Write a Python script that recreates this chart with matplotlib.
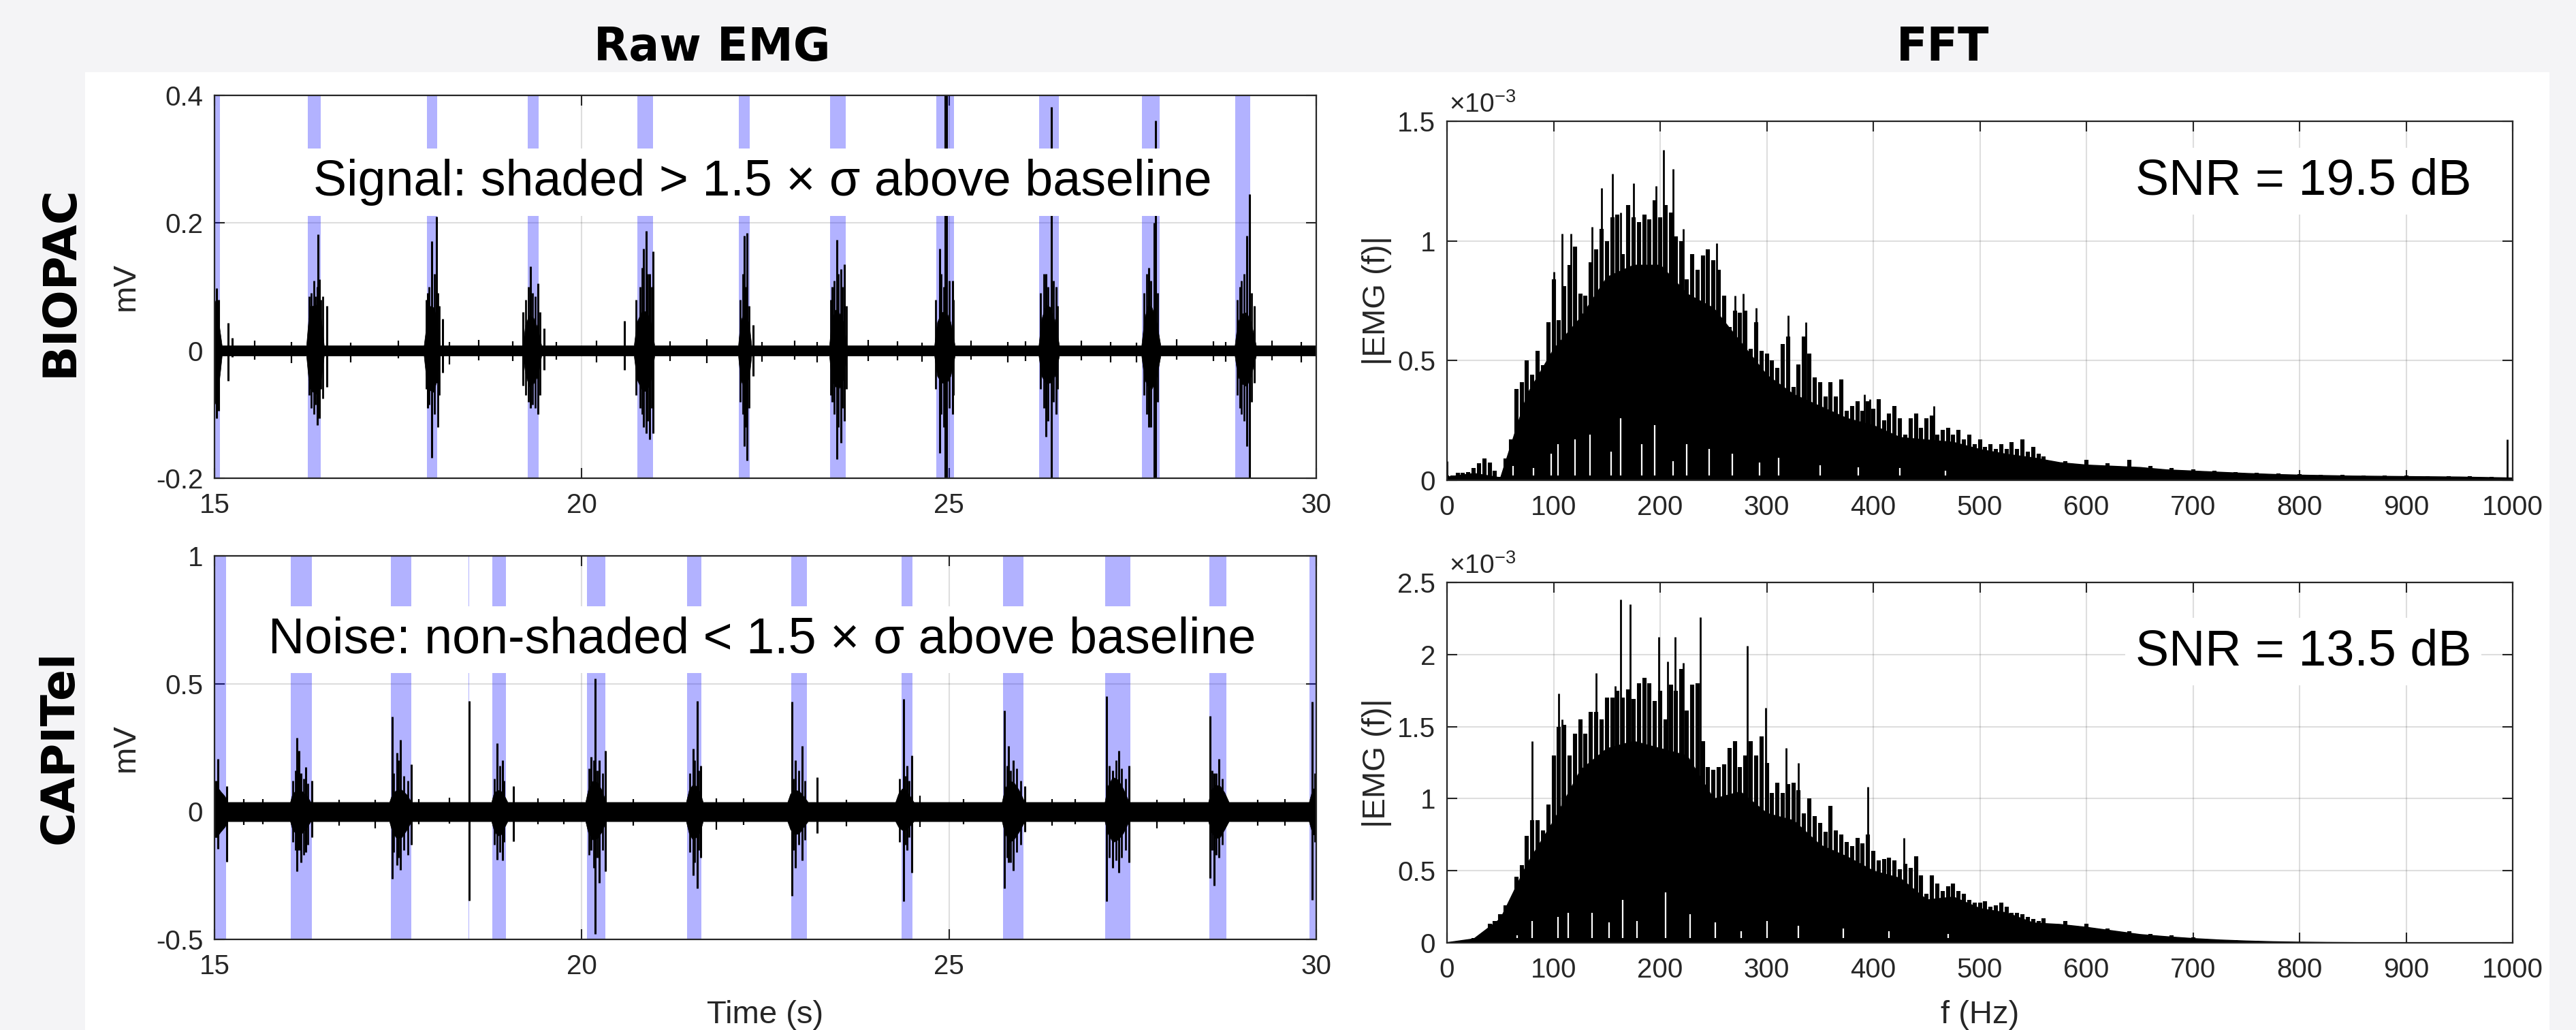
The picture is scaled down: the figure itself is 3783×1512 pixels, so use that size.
import numpy as np
import matplotlib.pyplot as plt
from matplotlib.patches import Rectangle

plt.rcParams['font.family'] = ['Liberation Sans', 'DejaVu Sans']
plt.rcParams['axes.unicode_minus'] = False
plt.rcParams['mathtext.default'] = 'regular'

W, H = 3783, 1512
INK = '#262626'

# -----------------------------
# Raw EMG, BIOPAC (mV)
# -----------------------------
biopac_bands = [(15.00, 15.07), (16.27, 16.45), (17.89, 18.03), (19.26, 19.41),
                (20.76, 20.97), (22.14, 22.29), (23.38, 23.59), (24.83, 25.07),
                (26.23, 26.50), (27.63, 27.87), (28.90, 29.10)]

# min/max envelope of the trace
biopac_env_t = [15.00, 15.02, 15.05, 15.08, 15.10,
                16.25, 16.28, 16.33, 16.39, 16.45, 16.49,
                17.85, 17.88, 17.93, 17.98, 18.03, 18.07,
                19.20, 19.23, 19.28, 19.34, 19.40, 19.45,
                20.71, 20.75, 20.81, 20.87, 20.93, 20.99,
                22.13, 22.16, 22.20, 22.24, 22.28, 22.31,
                23.37, 23.40, 23.45, 23.50, 23.56, 23.61,
                24.80, 24.84, 24.90, 24.96, 25.02, 25.08,
                26.22, 26.26, 26.32, 26.38, 26.44, 26.50,
                27.62, 27.66, 27.71, 27.76, 27.82, 27.88,
                28.89, 28.93, 28.99, 29.05, 29.11, 29.18,
                30.00]
biopac_env_hi = [0.075, 0.080, 0.050, 0.025, 0.008,
                 0.008, 0.050, 0.070, 0.072, 0.050, 0.008,
                 0.008, 0.035, 0.070, 0.068, 0.050, 0.008,
                 0.008, 0.040, 0.055, 0.052, 0.035, 0.008,
                 0.008, 0.045, 0.060, 0.062, 0.050, 0.008,
                 0.008, 0.045, 0.058, 0.055, 0.040, 0.008,
                 0.008, 0.045, 0.064, 0.060, 0.045, 0.008,
                 0.008, 0.045, 0.060, 0.062, 0.045, 0.008,
                 0.008, 0.050, 0.072, 0.068, 0.048, 0.008,
                 0.008, 0.050, 0.072, 0.068, 0.048, 0.008,
                 0.008, 0.045, 0.058, 0.060, 0.045, 0.008,
                 0.008]
biopac_env_lo = [-0.080, -0.085, -0.060, -0.030, -0.008,
                 -0.008, -0.045, -0.064, -0.068, -0.045, -0.008,
                 -0.008, -0.040, -0.062, -0.065, -0.045, -0.008,
                 -0.008, -0.035, -0.056, -0.052, -0.040, -0.008,
                 -0.008, -0.045, -0.060, -0.064, -0.052, -0.008,
                 -0.008, -0.045, -0.056, -0.054, -0.040, -0.008,
                 -0.008, -0.045, -0.056, -0.060, -0.045, -0.008,
                 -0.008, -0.040, -0.050, -0.052, -0.040, -0.008,
                 -0.008, -0.040, -0.052, -0.050, -0.040, -0.008,
                 -0.008, -0.045, -0.056, -0.060, -0.045, -0.008,
                 -0.008, -0.040, -0.052, -0.056, -0.040, -0.008,
                 -0.008]

# large single spikes (time, top, bottom)
biopac_spk_t = [15.03, 15.06, 15.19, 15.24,
                16.30, 16.40, 16.41, 16.43, 16.53,
                17.90, 17.96, 18.02, 18.11,
                19.20, 19.30, 19.40, 19.49,
                20.58, 20.84, 20.88, 20.92, 20.97,
                22.21, 22.25, 22.33,
                23.41, 23.47, 23.53, 23.58,
                24.87, 24.95, 24.97, 25.05,
                26.32, 26.39, 26.46,
                27.72, 27.79, 27.81,
                28.96, 29.05, 29.09, 29.16]
biopac_spk_hi = [0.098, 0.080, 0.043, 0.020,
                 0.070, 0.100, 0.182, 0.112, 0.070,
                 0.090, 0.172, 0.210, 0.050,
                 0.060, 0.132, 0.105, 0.035,
                 0.047, 0.160, 0.188, 0.120, 0.156,
                 0.180, 0.184, 0.040,
                 0.100, 0.174, 0.128, 0.135,
                 0.160, 0.450, 0.450, 0.110,
                 0.120, 0.382, 0.100,
                 0.130, 0.200, 0.360,
                 0.100, 0.180, 0.245, 0.070]
biopac_spk_lo = [-0.106, -0.094, -0.047, -0.010,
                 -0.060, -0.117, -0.100, -0.106, -0.057,
                 -0.090, -0.168, -0.050, -0.035,
                 -0.055, -0.090, -0.100, -0.030,
                 -0.030, -0.120, -0.130, -0.139, -0.130,
                 -0.150, -0.172, -0.040,
                 -0.080, -0.170, -0.145, -0.110,
                 -0.160, -0.250, -0.250, -0.100,
                 -0.135, -0.250, -0.100,
                 -0.120, -0.250, -0.250,
                 -0.090, -0.150, -0.250, -0.050]

# smaller spikes inside the bursts
biopac_burst_t = [15.01, 15.045,
                  16.29, 16.32, 16.35, 16.37, 16.45, 16.47,
                  17.88, 17.92, 17.99, 18.04, 18.06,
                  19.24, 19.27, 19.33, 19.37, 19.43,
                  20.74, 20.79, 20.82, 20.90, 20.95,
                  22.16, 22.19, 22.23, 22.28,
                  23.39, 23.44, 23.49, 23.55, 23.60,
                  24.82, 24.89, 24.93, 25.00, 25.06,
                  26.25, 26.29, 26.35, 26.42, 26.48,
                  27.65, 27.69, 27.75, 27.84,
                  28.92, 28.98, 29.02, 29.12]
biopac_burst_hi = [0.060, 0.070,
                   0.085, 0.090, 0.110, 0.085, 0.080, 0.085,
                   0.080, 0.100, 0.120, 0.090, 0.070,
                   0.080, 0.100, 0.090, 0.085, 0.060,
                   0.080, 0.100, 0.130, 0.120, 0.100,
                   0.080, 0.120, 0.100, 0.070,
                   0.080, 0.110, 0.120, 0.100, 0.070,
                   0.080, 0.120, 0.100, 0.110, 0.080,
                   0.090, 0.120, 0.100, 0.110, 0.070,
                   0.090, 0.120, 0.110, 0.090,
                   0.080, 0.110, 0.120, 0.090]
biopac_burst_lo = [-0.070, -0.090,
                   -0.070, -0.090, -0.100, -0.085, -0.060, -0.075,
                   -0.060, -0.085, -0.100, -0.120, -0.070,
                   -0.070, -0.080, -0.085, -0.090, -0.070,
                   -0.070, -0.090, -0.100, -0.110, -0.090,
                   -0.080, -0.100, -0.120, -0.090,
                   -0.070, -0.100, -0.120, -0.090, -0.060,
                   -0.060, -0.100, -0.120, -0.090, -0.070,
                   -0.060, -0.090, -0.110, -0.080, -0.060,
                   -0.070, -0.100, -0.120, -0.080,
                   -0.070, -0.100, -0.110, -0.080]

# baseline noise spikes
biopac_noise_t = [15.55, 16.05, 16.85, 17.50, 18.20, 18.60, 19.06, 19.65, 20.20,
                  21.20, 21.70, 22.45, 22.90, 23.20, 23.90, 24.30, 24.63, 25.30,
                  25.80, 26.04, 26.80, 27.20, 27.55, 28.10, 28.60, 28.77, 29.40, 29.80]
biopac_noise_hi = [0.016, 0.014, 0.012, 0.016, 0.013, 0.017, 0.015, 0.014, 0.016,
                   0.015, 0.018, 0.014, 0.016, 0.013, 0.017, 0.015, 0.012, 0.016,
                   0.014, 0.015, 0.016, 0.013, 0.012, 0.018, 0.015, 0.014, 0.016, 0.013]
biopac_noise_lo = [-0.014, -0.020, -0.018, -0.012, -0.022, -0.015, -0.016, -0.014, -0.018,
                   -0.016, -0.020, -0.017, -0.014, -0.018, -0.016, -0.015, -0.017, -0.014,
                   -0.018, -0.016, -0.015, -0.019, -0.018, -0.014, -0.016, -0.017, -0.015, -0.018]

# -----------------------------
# Raw EMG, CAPITel (mV)
# -----------------------------
capitel_bands = [(15.00, 15.155), (16.04, 16.33), (17.40, 17.68), (18.455, 18.468),
                 (18.78, 18.97), (20.07, 20.32), (21.43, 21.63), (22.85, 23.07),
                 (24.35, 24.50), (25.74, 26.01), (27.13, 27.47), (28.54, 28.78),
                 (29.91, 30.00)]

capitel_env_t = [15.00, 15.03, 15.08, 15.14, 15.18,
                 16.03, 16.06, 16.12, 16.19, 16.26, 16.31,
                 17.38, 17.42, 17.48, 17.55, 17.62, 17.68,
                 18.77, 18.80, 18.85, 18.90, 18.95, 18.99,
                 20.05, 20.09, 20.15, 20.21, 20.27, 20.33,
                 21.42, 21.46, 21.51, 21.56, 21.61, 21.65,
                 22.80, 22.84, 22.90, 22.96, 23.02, 23.08,
                 24.27, 24.31, 24.36, 24.41, 24.47, 24.52,
                 25.72, 25.76, 25.82, 25.88, 25.95, 26.03,
                 27.12, 27.16, 27.23, 27.30, 27.37, 27.45,
                 28.53, 28.57, 28.63, 28.69, 28.75, 28.81,
                 29.90, 29.95, 30.00]
capitel_env_hi = [0.100, 0.100, 0.080, 0.060, 0.037,
                  0.037, 0.070, 0.085, 0.080, 0.060, 0.037,
                  0.037, 0.070, 0.085, 0.085, 0.065, 0.037,
                  0.037, 0.070, 0.085, 0.080, 0.060, 0.037,
                  0.037, 0.090, 0.120, 0.115, 0.085, 0.037,
                  0.037, 0.085, 0.105, 0.100, 0.075, 0.037,
                  0.037, 0.070, 0.085, 0.080, 0.060, 0.037,
                  0.037, 0.070, 0.090, 0.085, 0.060, 0.037,
                  0.037, 0.090, 0.120, 0.115, 0.085, 0.037,
                  0.037, 0.100, 0.135, 0.125, 0.090, 0.037,
                  0.037, 0.085, 0.105, 0.100, 0.075, 0.037,
                  0.037, 0.090, 0.090]
capitel_env_lo = [-0.100, -0.100, -0.080, -0.060, -0.038,
                  -0.038, -0.070, -0.090, -0.085, -0.060, -0.038,
                  -0.038, -0.080, -0.105, -0.100, -0.070, -0.038,
                  -0.038, -0.070, -0.095, -0.090, -0.060, -0.038,
                  -0.038, -0.085, -0.110, -0.105, -0.080, -0.038,
                  -0.038, -0.085, -0.110, -0.100, -0.080, -0.038,
                  -0.038, -0.070, -0.090, -0.085, -0.060, -0.038,
                  -0.038, -0.060, -0.072, -0.072, -0.055, -0.038,
                  -0.038, -0.085, -0.120, -0.110, -0.080, -0.038,
                  -0.038, -0.085, -0.120, -0.110, -0.085, -0.038,
                  -0.038, -0.080, -0.105, -0.100, -0.070, -0.038,
                  -0.038, -0.090, -0.090]

capitel_spk_t = [15.02, 15.05, 15.17,
                 16.12, 16.15, 16.18, 16.24, 16.33,
                 17.42, 17.48, 17.53, 17.68,
                 18.47,
                 18.85, 18.92, 19.07,
                 20.13, 20.18, 20.24, 20.32,
                 21.52, 21.57, 21.62,
                 22.86, 22.91, 23.00, 23.20,
                 24.38, 24.43, 24.49,
                 25.75, 25.81, 25.87, 26.03,
                 27.14, 27.23, 27.31, 27.45,
                 28.55, 28.61, 28.67,
                 29.94, 29.98]
capitel_spk_hi = [0.120, 0.206, 0.100,
                  0.288, 0.237, 0.150, 0.175, 0.120,
                  0.370, 0.230, 0.280, 0.185,
                  0.432,
                  0.267, 0.200, 0.100,
                  0.215, 0.520, 0.200, 0.237,
                  0.246, 0.432, 0.180,
                  0.430, 0.200, 0.257, 0.135,
                  0.440, 0.180, 0.220,
                  0.395, 0.257, 0.200, 0.100,
                  0.450, 0.160, 0.237, 0.180,
                  0.375, 0.150, 0.206,
                  0.430, 0.150]
capitel_spk_lo = [-0.090, -0.146, -0.197,
                  -0.233, -0.150, -0.200, -0.160, -0.100,
                  -0.263, -0.210, -0.228, -0.130,
                  -0.348,
                  -0.188, -0.190, -0.116,
                  -0.150, -0.478, -0.280, -0.233,
                  -0.250, -0.300, -0.180,
                  -0.330, -0.220, -0.190, -0.085,
                  -0.350, -0.150, -0.240,
                  -0.300, -0.200, -0.230, -0.080,
                  -0.350, -0.220, -0.240, -0.200,
                  -0.260, -0.290, -0.180,
                  -0.346, -0.120]

capitel_burst_t = [16.07, 16.10, 16.21, 16.27,
                   17.44, 17.50, 17.58, 17.63,
                   18.81, 18.88, 18.94,
                   20.10, 20.16, 20.21, 20.28,
                   21.47, 21.54, 21.59,
                   22.88, 22.95, 23.04,
                   24.33, 24.40, 24.46,
                   25.79, 25.84, 25.92, 25.98,
                   27.18, 27.27, 27.35, 27.40,
                   28.58, 28.64, 28.72]
capitel_burst_hi = [0.120, 0.160, 0.130, 0.110,
                    0.150, 0.200, 0.140, 0.120,
                    0.130, 0.180, 0.120,
                    0.170, 0.200, 0.160, 0.150,
                    0.150, 0.200, 0.160,
                    0.130, 0.160, 0.120,
                    0.130, 0.140, 0.120,
                    0.180, 0.160, 0.170, 0.120,
                    0.180, 0.200, 0.170, 0.130,
                    0.160, 0.150, 0.130]
capitel_burst_lo = [-0.120, -0.150, -0.170, -0.130,
                    -0.160, -0.180, -0.150, -0.170,
                    -0.130, -0.160, -0.120,
                    -0.170, -0.220, -0.180, -0.150,
                    -0.160, -0.200, -0.150,
                    -0.150, -0.130, -0.110,
                    -0.120, -0.130, -0.100,
                    -0.180, -0.200, -0.160, -0.130,
                    -0.180, -0.190, -0.180, -0.150,
                    -0.150, -0.170, -0.130]

capitel_noise_t = [15.40, 15.66, 16.70, 17.19, 17.78, 18.20, 19.40, 19.76, 20.70, 21.83,
                   22.20, 23.60, 24.60, 25.20, 26.40, 26.72, 27.83, 28.20, 29.20, 29.57]
capitel_noise_hi = [0.050, 0.048, 0.047, 0.045, 0.048, 0.053, 0.052, 0.048, 0.049, 0.052,
                    0.051, 0.046, 0.063, 0.050, 0.049, 0.048, 0.045, 0.052, 0.047, 0.048]
capitel_noise_lo = [-0.052, -0.050, -0.055, -0.065, -0.050, -0.048, -0.050, -0.050, -0.056, -0.070,
                    -0.052, -0.058, -0.060, -0.051, -0.054, -0.050, -0.065, -0.050, -0.056, -0.055]

# -----------------------------
# FFT magnitude (x 1e-3)
# -----------------------------
fft_f = list(range(0, 560, 5)) + list(range(560, 1001, 20))
fft_core_f = list(range(0, 1001, 25))

biopac_fft_hi = [0.02, 0.02, 0.03, 0.03, 0.035, 0.05, 0.07, 0.09, 0.075, 0.04,
                 0.015, 0.09, 0.17, 0.38, 0.41, 0.50, 0.44, 0.54, 0.48, 0.66,
                 0.84, 0.67, 0.81, 0.90, 0.975, 0.78, 0.77, 0.91, 0.966, 1.05,
                 1.00, 1.10, 1.11, 0.946, 1.15, 1.10, 1.08, 1.11, 1.09, 1.17,
                 1.10, 1.15, 1.12, 1.02, 1.00, 0.84, 0.946, 0.88, 0.94, 0.966,
                 0.92, 0.88, 0.77, 0.64, 0.71, 0.70, 0.71, 0.55, 0.66, 0.54,
                 0.53, 0.50, 0.47, 0.57, 0.60, 0.39, 0.485, 0.60, 0.53, 0.43,
                 0.41, 0.35, 0.41, 0.35, 0.42, 0.29, 0.31, 0.33, 0.29, 0.33,
                 0.30, 0.34, 0.25, 0.28, 0.31, 0.26, 0.19, 0.26, 0.28, 0.22,
                 0.26, 0.27, 0.19, 0.21, 0.22, 0.19, 0.21, 0.17, 0.19, 0.15,
                 0.17, 0.14, 0.15, 0.13, 0.15, 0.13, 0.16, 0.13, 0.17, 0.12,
                 0.14, 0.11,
                 0.10, 0.08, 0.085, 0.07, 0.085, 0.06, 0.05, 0.045, 0.04, 0.035,
                 0.03, 0.028, 0.025, 0.024, 0.022, 0.02, 0.02, 0.02, 0.018, 0.017,
                 0.016, 0.015, 0.012]
# solid part under the spikes
biopac_fft_core = [0.015, 0.03, 0.012, 0.36, 0.55, 0.68, 0.85, 0.90, 0.90, 0.78,
                   0.72, 0.58, 0.44, 0.36, 0.31, 0.26, 0.23, 0.18, 0.17, 0.16,
                   0.13, 0.11, 0.095, 0.075, 0.065, 0.06, 0.055, 0.045, 0.04, 0.035,
                   0.03, 0.026, 0.023, 0.021, 0.019, 0.018, 0.017, 0.016, 0.015, 0.013,
                   0.011]
biopac_fft_spk_f = [0, 100, 108, 116, 136, 145, 155, 163, 175, 196, 203, 212, 222,
                    253, 270, 278, 290, 320, 337, 392, 397, 457, 995]
biopac_fft_spk_v = [0.08, 0.87, 1.03, 1.03, 1.06, 1.22, 1.28, 1.12, 1.24, 1.23, 1.38, 1.30, 1.05,
                    0.99, 0.77, 0.78, 0.72, 0.69, 0.66, 0.36, 0.34, 0.31, 0.17]
biopac_fft_gap_f = [62, 81, 98, 104, 120, 134, 154, 163, 183, 195, 212, 225,
                    246, 268, 293, 311, 350, 386, 425, 468]
biopac_fft_gap_v = [0.06, 0.05, 0.11, 0.15, 0.17, 0.19, 0.12, 0.26, 0.15, 0.23, 0.08, 0.15,
                    0.13, 0.11, 0.074, 0.093, 0.064, 0.054, 0.05, 0.04]

capitel_fft_hi = [0.005, 0.005, 0.008, 0.012, 0.02, 0.035, 0.045, 0.05, 0.13, 0.15,
                  0.20, 0.26, 0.29, 0.46, 0.54, 0.74, 0.85, 0.85, 0.78, 0.96,
                  1.30, 1.50, 1.51, 1.30, 1.45, 1.55, 1.45, 1.60, 1.60, 1.55,
                  1.70, 1.70, 1.75, 1.70, 1.76, 1.69, 1.80, 1.84, 1.80, 1.68,
                  1.75, 1.55, 1.79, 1.75, 1.90, 1.61, 1.79, 1.80, 1.40, 1.22,
                  1.20, 1.22, 1.24, 1.35, 1.40, 1.22, 1.30, 1.40, 1.30, 1.43,
                  1.25, 1.04, 1.11, 1.04, 1.10, 1.11, 1.06, 0.90, 1.00, 0.88,
                  0.83, 0.77, 0.95, 0.78, 0.75, 0.70, 0.67, 0.73, 0.69, 0.75,
                  0.64, 0.57, 0.58, 0.59, 0.57, 0.51, 0.55, 0.52, 0.60, 0.47,
                  0.34, 0.47, 0.41, 0.36, 0.39, 0.41, 0.36, 0.34, 0.30, 0.28,
                  0.28, 0.29, 0.25, 0.26, 0.28, 0.25, 0.21, 0.21, 0.20, 0.18,
                  0.165, 0.15,
                  0.17, 0.15, 0.13, 0.10, 0.08, 0.06, 0.05, 0.036, 0.025, 0.02,
                  0.014, 0.01, 0.007, 0.006, 0.005, 0.004, 0.004, 0.003, 0.003, 0.003,
                  0.003, 0.003, 0.003]
capitel_fft_core = [0.004, 0.03, 0.17, 0.55, 0.85, 1.20, 1.35, 1.40, 1.35, 1.30,
                    1.00, 1.05, 0.90, 0.85, 0.68, 0.60, 0.50, 0.45, 0.30, 0.32,
                    0.24, 0.21, 0.14, 0.13, 0.11, 0.085, 0.06, 0.045, 0.032, 0.022,
                    0.015, 0.01, 0.007, 0.005, 0.004, 0.003, 0.003, 0.003, 0.003, 0.003,
                    0.003]
capitel_fft_spk_f = [80, 105, 108, 140, 158, 163, 172, 185, 199, 207, 214, 222, 230, 238,
                     282, 299, 318, 330, 395, 429]
capitel_fft_spk_v = [1.40, 1.73, 1.55, 1.87, 1.78, 2.38, 2.35, 1.84, 2.12, 1.95, 2.12, 1.94, 1.79, 2.26,
                     2.06, 1.63, 1.35, 1.25, 1.08, 0.73]
capitel_fft_gap_f = [66, 80, 104, 114, 136, 152, 165, 178, 205, 228, 252, 276,
                     300, 330, 372, 415, 470]
capitel_fft_gap_v = [0.05, 0.15, 0.18, 0.21, 0.21, 0.14, 0.30, 0.15, 0.35, 0.20, 0.14, 0.08,
                     0.15, 0.12, 0.10, 0.08, 0.06]

snr_labels = ['SNR = 19.5 dB', 'SNR = 13.5 dB']


# -----------------------------
# Figure
# -----------------------------
fig = plt.figure(figsize=(W / 100, H / 100), dpi=100, facecolor='#f4f4f6')
fig.patches.append(Rectangle((125 / W, 0), (3744 - 125) / W, (H - 106) / H,
                             transform=fig.transFigure, facecolor='white',
                             edgecolor='none', zorder=-10))


def px_axes(x0, y0, x1, y1):
    # axes from pixel box (top-left origin)
    return fig.add_axes([x0 / W, 1 - y1 / H, (x1 - x0) / W, (y1 - y0) / H])


def ftext(x, y, s, **kw):
    return fig.text(x / W, 1 - y / H, s, **kw)


def style(ax):
    ax.set_axisbelow(True)
    ax.grid(True, color=INK, alpha=0.15, linewidth=1.5)
    ax.tick_params(direction='in', top=True, right=True, length=11, width=1.5,
                   colors=INK, labelsize=29, pad=12)
    ax.tick_params(axis='x', pad=15)
    for s in ax.spines.values():
        s.set_linewidth(1.6)
        s.set_color(INK)


def raw_panel(ax, bands, env, spikes, burst, noise):
    for a, b in bands:
        ax.axvspan(a, b, color='blue', alpha=0.3, lw=0, zorder=1)
    ax.fill_between(env[0], env[2], env[1], color='k', lw=0.5, zorder=2)
    ax.vlines(noise[0], noise[2], noise[1], color='k', lw=1.6, zorder=2)
    ax.vlines(burst[0], burst[2], burst[1], color='k', lw=2.0, zorder=2)
    ax.vlines(spikes[0], spikes[2], spikes[1], color='k', lw=2.2, zorder=2)
    ax.set_xlim(15, 30)
    ax.set_xticks([15, 20, 25, 30])
    ax.set_xticklabels(['15', '20', '25', '30'])
    style(ax)


def fft_panel(ax, hi, core, spk_f, spk_v, gap_f, gap_v, ymax, yticks, ylabels):
    ax.fill_between(fft_core_f, 0, core, color='k', lw=1.0, zorder=2)
    ax.vlines(fft_f, 0, hi, color='k', lw=4.4, zorder=2)
    ax.vlines(spk_f, 0, spk_v, color='k', lw=2.0, zorder=2)
    ax.vlines(gap_f, 0.02 * ymax / 1.5, gap_v, color='white', lw=1.6, zorder=2.1)
    ax.set_xlim(0, 1000)
    ax.set_ylim(0, ymax)
    ax.set_xticks(range(0, 1001, 100))
    ax.set_yticks(yticks)
    ax.set_yticklabels(ylabels)
    style(ax)


note_box = dict(boxstyle='square,pad=0.2', facecolor='white', edgecolor='none')

# top-left: BIOPAC raw
ax1 = px_axes(315, 140, 1933, 702)
raw_panel(ax1, biopac_bands,
          (biopac_env_t, biopac_env_hi, biopac_env_lo),
          (biopac_spk_t, biopac_spk_hi, biopac_spk_lo),
          (biopac_burst_t, biopac_burst_hi, biopac_burst_lo),
          (biopac_noise_t, biopac_noise_hi, biopac_noise_lo))
ax1.set_ylim(-0.2, 0.4)
ax1.set_yticks([-0.2, 0, 0.2, 0.4])
ax1.set_yticklabels(['-0.2', '0', '0.2', '0.4'])
ax1.text(16.34, 0.243, 'Signal: shaded > 1.5 × σ above baseline', fontsize=53,
         ha='left', va='baseline', bbox=note_box, zorder=5)

# bottom-left: CAPITel raw
ax2 = px_axes(315, 816, 1933, 1379)
raw_panel(ax2, capitel_bands,
          (capitel_env_t, capitel_env_hi, capitel_env_lo),
          (capitel_spk_t, capitel_spk_hi, capitel_spk_lo),
          (capitel_burst_t, capitel_burst_hi, capitel_burst_lo),
          (capitel_noise_t, capitel_noise_hi, capitel_noise_lo))
ax2.set_ylim(-0.5, 1)
ax2.set_yticks([-0.5, 0, 0.5, 1])
ax2.set_yticklabels(['-0.5', '0', '0.5', '1'])
ax2.text(15.73, 0.62, 'Noise: non-shaded < 1.5 × σ above baseline', fontsize=53,
         ha='left', va='baseline', bbox=note_box, zorder=5)

# top-right: BIOPAC FFT
ax3 = px_axes(2125, 178, 3690, 705)
fft_panel(ax3, biopac_fft_hi, biopac_fft_core, biopac_fft_spk_f, biopac_fft_spk_v,
          biopac_fft_gap_f, biopac_fft_gap_v, 1.5, [0, 0.5, 1, 1.5],
          ['0', '0.5', '1', '1.5'])
ax3.text(646, 1.194, snr_labels[0], fontsize=53, ha='left', va='baseline',
         bbox=note_box, zorder=5)

# bottom-right: CAPITel FFT
ax4 = px_axes(2125, 855, 3690, 1384)
fft_panel(ax4, capitel_fft_hi, capitel_fft_core, capitel_fft_spk_f, capitel_fft_spk_v,
          capitel_fft_gap_f, capitel_fft_gap_v, 2.5, [0, 0.5, 1, 1.5, 2, 2.5],
          ['0', '0.5', '1', '1.5', '2', '2.5'])
ax4.text(646, 1.928, snr_labels[1], fontsize=53, ha='left', va='baseline',
         bbox=note_box, zorder=5)

# exponent labels
ftext(2128, 165, '×10$^{-3}$', fontsize=28, color=INK, ha='left', va='baseline')
ftext(2128, 842, '×10$^{-3}$', fontsize=28, color=INK, ha='left', va='baseline')

# axis labels
ftext(185, 421, 'mV', fontsize=34, color=INK, rotation=90, ha='center', va='center')
ftext(185, 1098, 'mV', fontsize=34, color=INK, rotation=90, ha='center', va='center')
ftext(2022, 441, '|EMG (f)|', fontsize=34, color=INK, rotation=90, ha='center', va='center')
ftext(2022, 1120, '|EMG (f)|', fontsize=34, color=INK, rotation=90, ha='center', va='center')
ftext(1124, 1490, 'Time (s)', fontsize=34, color=INK, ha='center', va='center')
ftext(2908, 1490, 'f (Hz)', fontsize=34, color=INK, ha='center', va='center')

# column and row headings
ftext(1046, 70, 'Raw EMG', fontsize=48, fontweight='bold', family='DejaVu Sans',
      ha='center', va='center')
ftext(2853, 70, 'FFT', fontsize=48, fontweight='bold', family='DejaVu Sans',
      ha='center', va='center')
ftext(88, 413, 'BIOPAC', fontsize=49, fontweight='bold', family='DejaVu Sans',
      rotation=90, ha='center', va='center')
ftext(88, 1097, 'CAPITel', fontsize=49, fontweight='bold', family='DejaVu Sans',
      rotation=90, ha='center', va='center')

fig.savefig('out.png', dpi=100, facecolor=fig.get_facecolor())
